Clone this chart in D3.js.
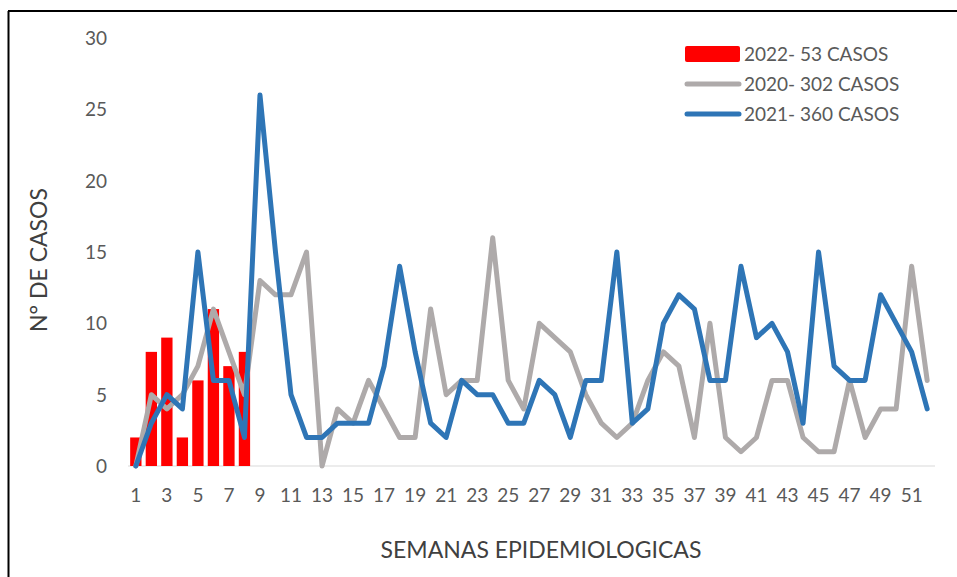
<!DOCTYPE html>
<html>
<head>
<meta charset="utf-8">
<script src="https://cdn.jsdelivr.net/npm/d3@7"></script>
<style>
  html, body { margin: 0; padding: 0; background: #fff; }
  svg { display: block; }
  text { font-family: Lato, "Open Sans", sans-serif; }
</style>
</head>
<body>
<svg id="chart" width="957" height="577"></svg>
<script>
// ---- data ----
const weeks = d3.range(1, 53);
const cases2022 = [2, 8, 9, 2, 6, 11, 7, 8];
const cases2020 = [0, 5, 4, 5, 7, 11, 8, 5, 13, 12, 12, 15, 0, 4, 3, 6, 4, 2, 2, 11,
                   5, 6, 6, 16, 6, 4, 10, 9, 8, 5, 3, 2, 3, 6, 8, 7, 2, 10, 2, 1,
                   2, 6, 6, 2, 1, 1, 6, 2, 4, 4, 14, 6];
const cases2021 = [0, 3, 5, 4, 15, 6, 6, 2, 26, 15, 5, 2, 2, 3, 3, 3, 7, 14, 8, 3,
                   2, 6, 5, 5, 3, 3, 6, 5, 2, 6, 6, 15, 3, 4, 10, 12, 11, 6, 6, 14,
                   9, 10, 8, 3, 15, 7, 6, 6, 12, 10, 8, 4];
const yTicks = [0, 5, 10, 15, 20, 25, 30];
const xTickLabels = weeks.filter(w => w % 2 === 1);
const legendLabels = ["2022- 53 CASOS", "2020- 302 CASOS", "2021- 360 CASOS"];
const yTitle = "N° DE CASOS";
const xTitle = "SEMANAS EPIDEMIOLOGICAS";

// ---- styles ----
const colRed = "#FF0000", colGray = "#AEAAAA", colBlue = "#2E75B6";
const textCol = "#595959";

const svg = d3.select("#chart");

// frame
svg.append("line").attr("x1", 8.5).attr("x2", 8.5).attr("y1", 11).attr("y2", 577)
  .attr("stroke", "#000").attr("stroke-width", 2);
svg.append("line").attr("x1", 8).attr("x2", 957).attr("y1", 11).attr("y2", 11)
  .attr("stroke", "#000").attr("stroke-width", 2);

const x = d3.scaleBand().domain(weeks).range([128, 935]).paddingInner(0.27).paddingOuter(0.14);
const y = d3.scaleLinear().domain([0, 30]).range([466, 38]);
const cx = w => x(w) + x.bandwidth() / 2;

// baseline
svg.append("line").attr("x1", 128).attr("x2", 935).attr("y1", y(0)).attr("y2", y(0))
  .attr("stroke", "#D9D9D9").attr("stroke-width", 1);

// y axis labels
const yAxis = d3.axisLeft(y).tickValues(yTicks).tickSize(0).tickPadding(0);
const gy = svg.append("g").attr("transform", "translate(107,0)").call(yAxis);
gy.select(".domain").remove();
gy.selectAll("text").attr("fill", textCol).style("font-size", "19px")
  .attr("dy", "0.35em").attr("x", 0);

// x axis labels
const xAxis = d3.axisBottom(x).tickValues(xTickLabels).tickSize(0).tickPadding(0);
const gx = svg.append("g").attr("transform", "translate(0,488)").call(xAxis);
gx.select(".domain").remove();
gx.selectAll("text").attr("fill", textCol).style("font-size", "19px").attr("dy", "0.71em");

// bars
svg.append("g").selectAll("rect").data(cases2022).join("rect")
  .attr("x", (d, i) => x(weeks[i]))
  .attr("width", x.bandwidth())
  .attr("y", d => y(d))
  .attr("height", d => y(0) - y(d))
  .attr("fill", colRed);

// lines
const line = d3.line().x((d, i) => cx(weeks[i])).y(d => y(d));
svg.append("path").datum(cases2020).attr("d", line)
  .attr("fill", "none").attr("stroke", colGray).attr("stroke-width", 5)
  .attr("stroke-linejoin", "round").attr("stroke-linecap", "round");
svg.append("path").datum(cases2021).attr("d", line)
  .attr("fill", "none").attr("stroke", colBlue).attr("stroke-width", 5)
  .attr("stroke-linejoin", "round").attr("stroke-linecap", "round");

// axis titles
svg.append("text").attr("transform", "translate(47,260) rotate(-90)")
  .attr("text-anchor", "middle").attr("fill", "#404040").style("font-size", "23px")
  .text(yTitle);
svg.append("text").attr("x", 541).attr("y", 558)
  .attr("text-anchor", "middle").attr("fill", "#404040").style("font-size", "23px")
  .text(xTitle);

// legend
const lg = svg.append("g");
const rowsY = [54, 84, 114];
lg.append("rect").attr("x", 685).attr("y", rowsY[0] - 8).attr("width", 55).attr("height", 16)
  .attr("rx", 2).attr("fill", colRed);
lg.append("line").attr("x1", 687).attr("x2", 739).attr("y1", rowsY[1]).attr("y2", rowsY[1])
  .attr("stroke", colGray).attr("stroke-width", 5).attr("stroke-linecap", "round");
lg.append("line").attr("x1", 687).attr("x2", 739).attr("y1", rowsY[2]).attr("y2", rowsY[2])
  .attr("stroke", colBlue).attr("stroke-width", 5).attr("stroke-linecap", "round");
lg.selectAll("text.leg").data(legendLabels).join("text").attr("class", "leg")
  .attr("x", 744).attr("y", (d, i) => rowsY[i]).attr("dy", "0.35em")
  .attr("fill", textCol).style("font-size", "19px").text(d => d);
</script>
</body>
</html>
